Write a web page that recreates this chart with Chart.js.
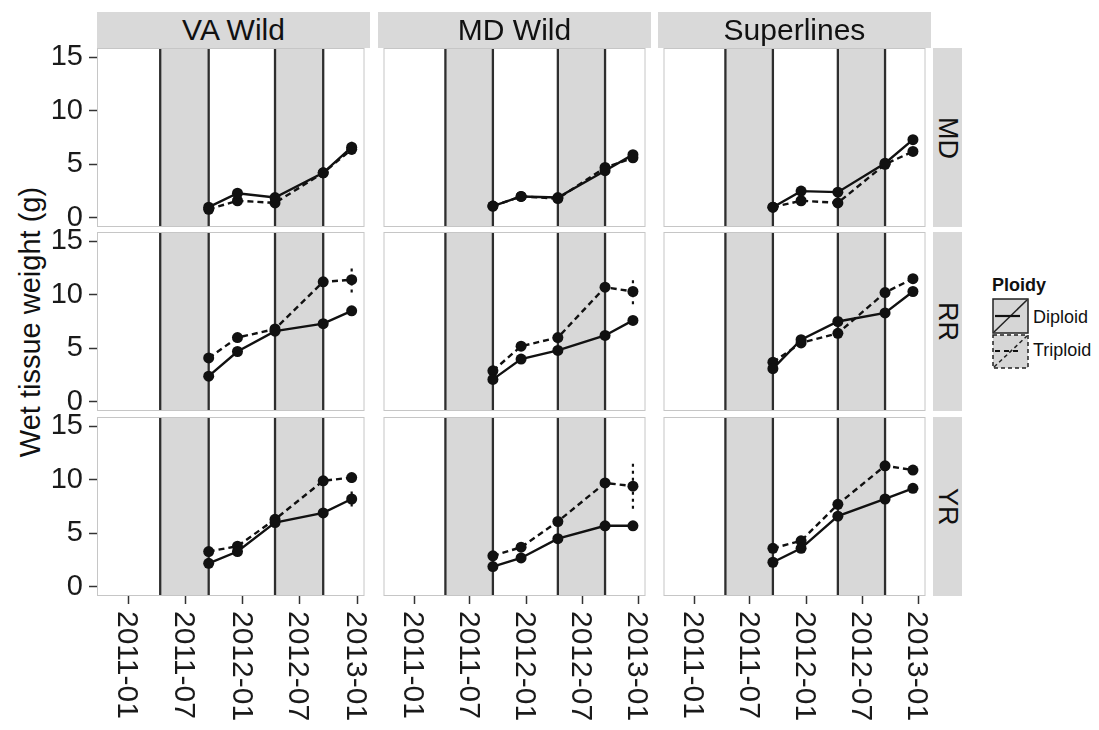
<!DOCTYPE html>
<html>
<head>
<meta charset="utf-8">
<script src="https://cdn.jsdelivr.net/npm/chart.js@4.4.1/dist/chart.umd.min.js"></script>
<style>
  html, body { margin: 0; padding: 0; background: #fff; }
  body {
    width: 1099px; height: 730px; position: relative; overflow: hidden;
    font-family: "Liberation Sans", Arial, Helvetica, sans-serif; color: #111;
  }
  canvas { position: absolute; }
  .strip { position: absolute; background: #d9d9d9; display: flex; align-items: center; justify-content: center; }
  .strip.top { font-size: 30px; }
  .strip.side { font-size: 27px; writing-mode: vertical-rl; }
  #ytitle {
    position: absolute; left: -170px; top: 305px; width: 400px; height: 34px;
    line-height: 34px; text-align: center; font-size: 29px; transform: rotate(-90deg);
  }
  #legend { position: absolute; left: 992px; top: 274px; }
  #legend .title { font-weight: bold; font-size: 18px; height: 24px; line-height: 22px; }
  #legend .lab { position: absolute; left: 41px; font-size: 18px; }
</style>
</head>
<body>
<div id="ytitle">Wet tissue weight (g)</div>
<div id="legend">
  <div class="title">Ploidy</div>
  <svg width="40" height="74" style="position:absolute;left:0;top:24px" xmlns="http://www.w3.org/2000/svg">
    <rect x="1" y="1" width="35" height="34" fill="#d6d6d6" stroke="#222" stroke-width="1.5"/>
    <line x1="2" y1="34" x2="35" y2="2" stroke="#222" stroke-width="1.5"/>
    <line x1="3" y1="18" x2="28" y2="18" stroke="#111" stroke-width="2.2"/>
    <rect x="1" y="37" width="35" height="33" fill="#d6d6d6" stroke="#222" stroke-width="1.5" stroke-dasharray="4 3"/>
    <line x1="2" y1="69" x2="35" y2="38" stroke="#222" stroke-width="1.5" stroke-dasharray="4 3"/>
    <line x1="3" y1="53" x2="28" y2="53" stroke="#111" stroke-width="2.2" stroke-dasharray="5 4"/>
  </svg>
  <div class="lab" style="top:33px">Diploid</div>
  <div class="lab" style="top:66px">Triploid</div>
</div>

<script>
// facets
const SOURCES = ['VA Wild', 'MD Wild', 'Superlines'];
const SITES = ['MD', 'RR', 'YR'];

// sampling dates and shaded periods
const DATES = ['2011-09-14', '2011-12-15', '2012-04-13', '2012-09-14', '2012-12-14'];
const SHADE = [['2011-04-12', '2011-09-14'], ['2012-04-13', '2012-09-14']];
const X_TICKS = ['2011-01-01', '2011-07-01', '2012-01-01', '2012-07-01', '2013-01-01'];
const Y_TICKS = [0, 5, 10, 15];

// wet tissue weight (g), one row per source: VA Wild, MD Wild, Superlines
const DIPLOID_MD = [
  [1.0, 2.3, 1.9, 4.2, 6.6],
  [1.1, 2.0, 1.9, 4.4, 5.9],
  [1.0, 2.5, 2.4, 5.1, 7.3],
];
const TRIPLOID_MD = [
  [0.8, 1.6, 1.4, 4.2, 6.4],
  [1.1, 2.0, 1.8, 4.7, 5.6],
  [1.0, 1.6, 1.4, 5.0, 6.2],
];
const DIPLOID_RR = [
  [2.4, 4.7, 6.6, 7.3, 8.5],
  [2.1, 4.0, 4.8, 6.2, 7.6],
  [3.1, 5.8, 7.5, 8.3, 10.3],
];
const TRIPLOID_RR = [
  [4.1, 6.0, 6.8, 11.2, 11.4],
  [2.9, 5.2, 6.0, 10.7, 10.3],
  [3.7, 5.5, 6.4, 10.2, 11.5],
];
const DIPLOID_YR = [
  [2.2, 3.3, 6.0, 6.9, 8.2],
  [1.9, 2.7, 4.5, 5.7, 5.7],
  [2.3, 3.6, 6.6, 8.2, 9.2],
];
const TRIPLOID_YR = [
  [3.3, 3.8, 6.3, 9.9, 10.2],
  [2.9, 3.7, 6.1, 9.7, 9.4],
  [3.6, 4.3, 7.7, 11.3, 10.9],
];

// standard error half-widths
const DIPLOID_ERR_MD = [[0.2, 0.2, 0.2, 0.2, 0.5], [0.1, 0.2, 0.2, 0.2, 0.2], [0.1, 0.2, 0.2, 0.2, 0.2]];
const TRIPLOID_ERR_MD = [[0.2, 0.2, 0.2, 0.2, 0.5], [0.1, 0.2, 0.2, 0.3, 0.4], [0.1, 0.2, 0.2, 0.2, 0.2]];
const DIPLOID_ERR_RR = [[0.2, 0.2, 0.2, 0.2, 0.2], [0.2, 0.2, 0.2, 0.2, 0.2], [0.3, 0.2, 0.3, 0.2, 0.2]];
const TRIPLOID_ERR_RR = [[0.2, 0.2, 0.3, 0.3, 1.2], [0.3, 0.4, 0.3, 0.3, 1.2], [0.3, 0.2, 0.3, 0.3, 0.2]];
const DIPLOID_ERR_YR = [[0.2, 0.2, 0.2, 0.2, 0.7], [0.2, 0.2, 0.2, 0.2, 0.2], [0.2, 0.2, 0.2, 0.2, 0.2]];
const TRIPLOID_ERR_YR = [[0.2, 0.3, 0.3, 0.2, 0.5], [0.2, 0.2, 0.2, 0.2, 2.1], [0.2, 0.2, 0.3, 0.3, 0.4]];

const DIPLOID = { MD: DIPLOID_MD, RR: DIPLOID_RR, YR: DIPLOID_YR };
const TRIPLOID = { MD: TRIPLOID_MD, RR: TRIPLOID_RR, YR: TRIPLOID_YR };
const DIPLOID_ERR = { MD: DIPLOID_ERR_MD, RR: DIPLOID_ERR_RR, YR: DIPLOID_ERR_YR };
const TRIPLOID_ERR = { MD: TRIPLOID_ERR_MD, RR: TRIPLOID_ERR_RR, YR: TRIPLOID_ERR_YR };

// layout
const FONT = '"Liberation Sans", Arial, Helvetica, sans-serif';
const COL_LEFT = [97, 378, 658], COL_W = 273;
const ROW_TOP = [48, 232, 417], ROW_H = 179;
const PAD = 26;
const Y_AXIS_W = 97;
const X_AXIS_H = 730 - (ROW_TOP[2] + ROW_H);

const day = (s) => Date.parse(s + 'T00:00:00Z');
const X_MIN = day('2010-09-22'), X_MAX = day('2013-01-24');
const Y_MIN = -0.85, Y_MAX = 15.85;

// shaded periods, error bars, panel frame and rotated date labels
const panelPlugin = {
  id: 'panel',
  beforeDatasetsDraw(chart) {
    const { ctx, chartArea: a, scales: { x, y } } = chart;
    ctx.save();
    ctx.fillStyle = '#d8d8d8';
    SHADE.forEach(([s, e]) => {
      const x1 = x.getPixelForValue(day(s)), x2 = x.getPixelForValue(day(e));
      ctx.fillRect(x1, a.top, x2 - x1, a.bottom - a.top);
    });
    ctx.strokeStyle = '#2e2e2e';
    ctx.lineWidth = 2.3;
    SHADE.forEach(([s, e]) => {
      [s, e].forEach((d) => {
        const px = x.getPixelForValue(day(d));
        ctx.beginPath();
        ctx.moveTo(px, a.top);
        ctx.lineTo(px, a.bottom);
        ctx.stroke();
      });
    });
    ctx.strokeStyle = '#c6c6c6';
    ctx.lineWidth = 1;
    ctx.strokeRect(a.left + 0.5, a.top + 0.5, a.right - a.left - 1, a.bottom - a.top - 1);

    // error bars
    chart.data.datasets.forEach((ds) => {
      ctx.strokeStyle = '#111';
      ctx.lineWidth = 2.2;
      ctx.setLineDash(ds.borderDash ? [3, 4] : []);
      ds.data.forEach((p, i) => {
        const px = x.getPixelForValue(p.x);
        ctx.beginPath();
        ctx.moveTo(px, y.getPixelForValue(p.y - ds.err[i]));
        ctx.lineTo(px, y.getPixelForValue(p.y + ds.err[i]));
        ctx.stroke();
      });
    });
    ctx.restore();
  },
  afterDraw(chart) {
    if (!chart.options.plugins.panel.dateLabels) return;
    const { ctx, chartArea: a, scales: { x } } = chart;
    ctx.save();
    ctx.fillStyle = '#1a1a1a';
    ctx.font = '30px ' + FONT;
    ctx.textAlign = 'left';
    ctx.textBaseline = 'middle';
    x.ticks.forEach((t) => {
      ctx.save();
      ctx.translate(x.getPixelForValue(t.value) - 2, a.bottom + 15);
      ctx.rotate(Math.PI / 2);
      ctx.fillText(new Date(t.value).toISOString().slice(0, 7), 0, 0);
      ctx.restore();
    });
    ctx.restore();
  },
};

const series = (vals) => vals.map((v, i) => ({ x: day(DATES[i]), y: v }));

SITES.forEach((site, r) => {
  SOURCES.forEach((src, c) => {
    const bottomRow = r === SITES.length - 1;
    const left = c === 0 ? 0 : COL_LEFT[c];
    const width = c === 0 ? COL_LEFT[0] + COL_W : COL_W;
    const top = ROW_TOP[r] - PAD;
    const height = bottomRow ? 730 - top : ROW_H + 2 * PAD;

    const cv = document.createElement('canvas');
    cv.width = width;
    cv.height = height;
    cv.style.left = left + 'px';
    cv.style.top = top + 'px';
    document.body.appendChild(cv);

    new Chart(cv, {
      type: 'line',
      data: {
        datasets: [{
          label: 'Diploid',
          data: series(DIPLOID[site][c]),
          err: DIPLOID_ERR[site][c],
          borderColor: '#111',
          borderWidth: 2.4,
          pointRadius: 5.5,
          pointBackgroundColor: '#111',
          pointBorderWidth: 0,
        }, {
          label: 'Triploid',
          data: series(TRIPLOID[site][c]),
          err: TRIPLOID_ERR[site][c],
          borderColor: '#111',
          borderWidth: 2.4,
          borderDash: [6, 4],
          pointRadius: 5.5,
          pointBackgroundColor: '#111',
          pointBorderWidth: 0,
        }],
      },
      options: {
        responsive: false,
        animation: false,
        devicePixelRatio: 1,
        events: [],
        layout: { padding: { top: PAD, bottom: bottomRow ? 0 : PAD, left: 0, right: 0 } },
        scales: {
          x: {
            type: 'linear',
            min: X_MIN,
            max: X_MAX,
            display: bottomRow,
            afterBuildTicks: (s) => { s.ticks = X_TICKS.map((d) => ({ value: day(d) })); },
            afterFit: (s) => { if (bottomRow) s.height = X_AXIS_H; },
            grid: { drawOnChartArea: false, drawTicks: true, tickLength: 8, tickColor: '#333', tickWidth: 1.5 },
            border: { display: false },
            ticks: { display: false },
          },
          y: {
            type: 'linear',
            min: Y_MIN,
            max: Y_MAX,
            display: c === 0,
            afterBuildTicks: (s) => { s.ticks = Y_TICKS.map((v) => ({ value: v })); },
            afterFit: (s) => { if (c === 0) s.width = Y_AXIS_W; },
            grid: { drawOnChartArea: false, drawTicks: true, tickLength: 8, tickColor: '#333', tickWidth: 1.5 },
            border: { display: false },
            ticks: { color: '#1a1a1a', padding: 6, font: { size: 29, family: FONT } },
          },
        },
        plugins: {
          legend: { display: false },
          tooltip: { enabled: false },
          panel: { dateLabels: bottomRow },
        },
      },
      plugins: [panelPlugin],
    });
  });
});

// facet strips
SOURCES.forEach((src, c) => {
  const d = document.createElement('div');
  d.className = 'strip top';
  Object.assign(d.style, { left: COL_LEFT[c] + 'px', top: '12px', width: COL_W + 'px', height: (ROW_TOP[0] - 12) + 'px' });
  d.textContent = src;
  document.body.appendChild(d);
});
SITES.forEach((site, r) => {
  const d = document.createElement('div');
  d.className = 'strip side';
  Object.assign(d.style, { left: '933px', top: ROW_TOP[r] + 'px', width: '29px', height: ROW_H + 'px' });
  d.textContent = site;
  document.body.appendChild(d);
});
</script>
</body>
</html>
